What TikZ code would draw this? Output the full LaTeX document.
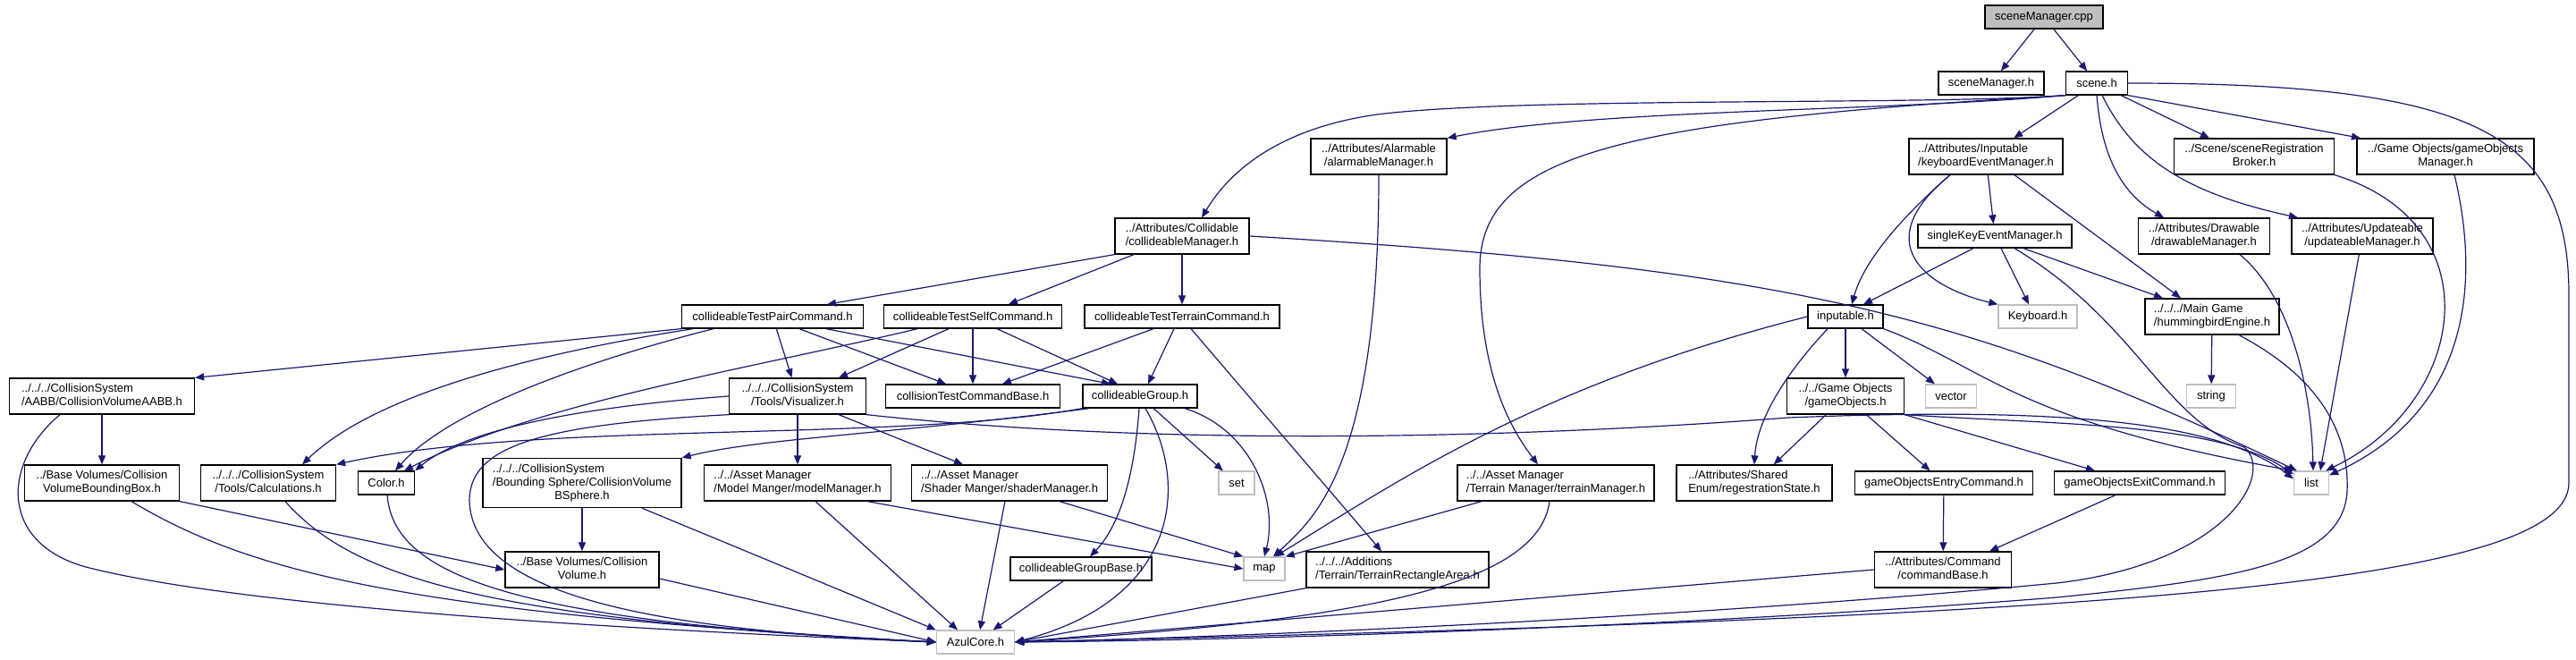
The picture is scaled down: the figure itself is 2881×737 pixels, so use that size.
\documentclass[tikz,border=0pt]{standalone}
\usepackage{fontspec}
\setmainfont{Liberation Sans}
\usetikzlibrary{arrows.meta}
\definecolor{dxEdge}{HTML}{191970}
\definecolor{dxGray}{HTML}{BFBFBF}
\newcommand{\twoline}[2]{\begin{tabular}{@{}l@{}}#1\\\multicolumn{1}{@{}c@{}}{#2}\end{tabular}}
\newcommand{\threeline}[3]{\begin{tabular}{@{}l@{}}#1\\#2\\\multicolumn{1}{@{}c@{}}{#3}\end{tabular}}

\begin{document}
\begin{tikzpicture}[x=1pt,y=-1pt,font=\fontsize{13}{15}\selectfont]
    \tikzset{file/.style={draw=black,fill=white,line width=1.3pt,minimum height=26pt,inner xsep=2pt,inner ysep=5pt},
      sys/.style={file,draw=dxGray},
      root/.style={file,fill=dxGray},
      dep/.style={dxEdge,line width=1.2pt,-{Triangle[length=10pt,width=8pt]}}}
    \useasboundingbox (0,0) rectangle (2881,737);
    \node[root,minimum width=132pt] (root) at (2286,19) {sceneManager.cpp};
    \node[file,minimum width=118pt] (smh) at (2227,93) {sceneManager.h};
    \node[file,minimum width=69pt] (scene) at (2345,93) {scene.h};
    \node[file,minimum width=152pt] (alarm) at (1542,175) {\twoline{../Attributes/Alarmable}{/alarmableManager.h}};
    \node[file,minimum width=172pt] (kbd) at (2221,175) {\twoline{../Attributes/Inputable}{/keyboardEventManager.h}};
    \node[file,minimum width=179pt] (reg) at (2521,175) {\twoline{../Scene/sceneRegistration}{Broker.h}};
    \node[file,minimum width=198pt] (gom) at (2735,175) {\twoline{../Game Objects/gameObjects}{Manager.h}};
    \node[file,minimum width=150pt] (coll) at (1322,264) {\twoline{../Attributes/Collidable}{/collideableManager.h}};
    \node[file,minimum width=172pt] (single) at (2231,264) {singleKeyEventManager.h};
    \node[file,minimum width=147pt] (draw) at (2465,264) {\twoline{../Attributes/Drawable}{/drawableManager.h}};
    \node[file,minimum width=158pt] (upd) at (2642,264) {\twoline{../Attributes/Updateable}{/updateableManager.h}};
    \node[file,minimum width=203pt] (pair) at (864,354) {collideableTestPairCommand.h};
    \node[file,minimum width=199pt] (self) at (1088,354) {collideableTestSelfCommand.h};
    \node[file,minimum width=218pt] (terr) at (1322,354) {collideableTestTerrainCommand.h};
    \node[file,minimum width=84pt] (inp) at (2064,354) {inputable.h};
    \node[sys,minimum width=88pt] (keyb) at (2279,354) {Keyboard.h};
    \node[file,minimum width=150pt] (engine) at (2474,354) {\twoline{../../../Main Game}{/hummingbirdEngine.h}};
    \node[file,minimum width=207pt] (aabb) at (114,443) {\twoline{../../../CollisionSystem}{/AABB/CollisionVolumeAABB.h}};
    \node[file,minimum width=153pt] (vis) at (892,443) {\twoline{../../../CollisionSystem}{/Tools/Visualizer.h}};
    \node[file,minimum width=195pt] (ctcb) at (1088,443) {collisionTestCommandBase.h};
    \node[file,minimum width=128pt] (group) at (1275,443) {collideableGroup.h};
    \node[file,minimum width=131pt] (gobj) at (2064,443) {\twoline{../../Game Objects}{/gameObjects.h}};
    \node[sys,minimum width=57pt] (vec) at (2182,443) {vector};
    \node[sys,minimum width=55pt] (str) at (2473,443) {string};
    \node[file,minimum width=173pt] (bbox) at (114,540) {\twoline{../Base Volumes/Collision}{VolumeBoundingBox.h}};
    \node[file,minimum width=151pt] (calc) at (300,540) {\twoline{../../../CollisionSystem}{/Tools/Calculations.h}};
    \node[file,minimum width=63pt] (color) at (432,540) {Color.h};
    \node[file,minimum width=222pt] (bsph) at (651,540) {\threeline{../../../CollisionSystem}{/Bounding Sphere/CollisionVolume}{BSphere.h}};
    \node[file,minimum width=209pt] (model) at (892,540) {\twoline{../../Asset Manager}{/Model Manger/modelManager.h}};
    \node[file,minimum width=219pt] (shader) at (1129,540) {\twoline{../../Asset Manager}{/Shader Manger/shaderManager.h}};
    \node[sys,minimum width=40pt] (set) at (1383,540) {set};
    \node[file,minimum width=220pt] (terrm) at (1740,540) {\twoline{../../Asset Manager}{/Terrain Manager/terrainManager.h}};
    \node[file,minimum width=174pt] (regst) at (1962,540) {\twoline{../Attributes/Shared}{Enum/regestrationState.h}};
    \node[file,minimum width=199pt] (entry) at (2174,540) {gameObjectsEntryCommand.h};
    \node[file,minimum width=191pt] (exit) at (2393,540) {gameObjectsExitCommand.h};
    \node[sys,minimum width=39pt] (list) at (2585,540) {list};
    \node[file,minimum width=172pt] (cvol) at (651,637) {\twoline{../Base Volumes/Collision}{Volume.h}};
    \node[file,minimum width=158pt] (gbase) at (1209,636) {collideableGroupBase.h};
    \node[sys,minimum width=46pt] (map) at (1414,636) {map};
    \node[file,minimum width=204pt] (tra) at (1563,637) {\twoline{../../../Additions}{/Terrain/TerrainRectangleArea.h}};
    \node[file,minimum width=153pt] (cbase) at (2173,637) {\twoline{../Attributes/Command}{/commandBase.h}};
    \node[sys,minimum width=87pt] (azul) at (1091,718) {AzulCore.h};
    % top
    \draw[dep] (root) -- (smh);
    \draw[dep] (root) -- (scene);
    \draw[dep] (scene.south west) .. controls (2150,118) and (1700,108) .. (1540,128) .. controls (1420,145) and (1370,200) .. ([xshift=22pt]coll.north);
    \draw[dep] (scene.south west) .. controls (2100,125) and (1780,122) .. (alarm.north east);
    \draw[dep] (scene.south west) .. controls (1820,135) and (1655,170) .. (1655,300) .. controls (1655,420) and (1690,480) .. ([xshift=-20pt]terrm.north);
    \draw[dep] (scene) -- (kbd);
    \draw[dep] (scene.south) .. controls (2350,170) and (2370,215) .. ([xshift=-45pt]draw.north);
    \draw[dep] ([xshift=6pt]scene.south) .. controls (2385,175) and (2440,215) .. ([xshift=-72pt]upd.north);
    \draw[dep] ([xshift=-8pt]scene.south east) -- ([xshift=-50pt]reg.north);
    \draw[dep] (scene.south east) -- ([xshift=-95pt]gom.north);
    \draw[dep] (scene.east) .. controls (2770,93) and (2873,150) .. (2873,330) -- (2873,540) .. controls (2873,660) and (2300,690) .. (azul.east);
    \draw[dep] (reg.south east) .. controls (2790,250) and (2760,450) .. ([xshift=-4pt]list.north east);
    \draw[dep] ([xshift=10pt]gom.south) .. controls (2775,320) and (2760,460) .. ([yshift=-5pt]list.north east);
    \draw[dep] ([xshift=40pt]draw.south) .. controls (2560,330) and (2585,430) .. ([xshift=2pt]list.north);
    \draw[dep] (upd) -- ([xshift=10pt]list.north);
    \draw[dep] (alarm.south) .. controls (1542,520) and (1470,580) .. ([xshift=10pt]map.north);
    % input side
    \draw[dep] (kbd) -- (single);
    \draw[dep] ([xshift=-40pt]kbd.south) .. controls (2130,240) and (2085,290) .. ([xshift=7pt]inp.north);
    \draw[dep] ([xshift=-40pt]kbd.south) .. controls (2090,270) and (2150,320) .. (keyb.north west);
    \draw[dep] ([xshift=32pt]kbd.south) -- ([xshift=-35pt]engine.north);
    \draw[dep] ([xshift=-24pt]single.south) -- ([xshift=20pt]inp.north);
    \draw[dep] ([xshift=7pt]single.south) -- ([xshift=-10pt]keyb.north);
    \draw[dep] ([xshift=32pt]single.south) -- ([xshift=-55pt]engine.north);
    \draw[dep] ([xshift=22pt]single.south) .. controls (2390,360) and (2420,470) .. (2510,500) .. controls (2545,530) and (2490,630) .. (2300,652) .. controls (1900,690) and (1400,712) .. (azul.east);
    \draw[dep] (engine) -- (str);
    \draw[dep] ([xshift=30pt]engine.south) .. controls (2590,420) and (2628,480) .. (2625,550) .. controls (2620,630) and (2500,648) .. (2300,668) .. controls (1900,700) and (1400,716) .. (azul.east);
    \draw[dep] (inp) -- (gobj);
    \draw[dep] (inp) -- (vec);
    \draw[dep] (inp.south east) .. controls (2220,410) and (2250,470) .. (list.north west);
    \draw[dep] ([xshift=-20pt]inp.south) .. controls (1995,420) and (1965,470) .. (regst.north);
    \draw[dep] (inp.west) .. controls (1720,430) and (1560,540) .. ([xshift=12pt]map.north);
    \draw[dep] (gobj) -- (regst);
    \draw[dep] (gobj) -- (entry);
    \draw[dep] (gobj.south east) -- ([xshift=-50pt]exit.north);
    \draw[dep] (gobj.south east) .. controls (2300,475) and (2480,472) .. ([yshift=-4pt]list.north west);
    \draw[dep] (entry) -- (cbase);
    \draw[dep] ([xshift=-27pt]exit.south) -- ([xshift=52pt]cbase.north);
    \draw[dep] (cbase.west) -- (azul.east);
    % collision side
    \draw[dep] (coll.south west) -- ([xshift=61pt]pair.north);
    \draw[dep] ([xshift=-54pt]coll.south) -- ([xshift=40pt]self.north);
    \draw[dep] (coll) -- (terr);
    \draw[dep] (coll.east) .. controls (2000,300) and (2200,350) .. ([xshift=4pt]list.north west);
    \draw[dep] (pair.south west) -- (aabb.north east);
    \draw[dep] ([xshift=-89pt]pair.south) .. controls (600,395) and (420,440) .. ([xshift=38pt]calc.north);
    \draw[dep] ([xshift=-66pt]pair.south) .. controls (650,405) and (500,460) .. ([xshift=10pt]color.north);
    \draw[dep] (pair) -- (vis);
    \draw[dep] ([xshift=30pt]pair.south) -- ([xshift=-30pt]ctcb.north);
    \draw[dep] ([xshift=60pt]pair.south) -- ([xshift=-33pt]group.north);
    \draw[dep] ([xshift=-27pt]self.south) -- ([xshift=46pt]vis.north);
    \draw[dep] ([xshift=-62pt]self.south) .. controls (850,410) and (600,450) .. ([xshift=20pt]color.north);
    \draw[dep] (self) -- (ctcb);
    \draw[dep] ([xshift=27pt]self.south) -- ([xshift=-25pt]group.north);
    \draw[dep] ([xshift=-32pt]terr.south) -- ([xshift=33pt]ctcb.north);
    \draw[dep] ([xshift=-9pt]terr.south) -- ([xshift=9pt]group.north);
    \draw[dep] ([xshift=10pt]terr.south) -- ([xshift=-18pt]tra.north);
    \draw[dep] (vis.west) .. controls (650,455) and (520,480) .. (color.north east);
    \draw[dep] (vis) -- (model);
    \draw[dep] ([xshift=46pt]vis.south) -- ([xshift=-52pt]shader.north);
    \draw[dep] (vis.south east) .. controls (1300,500) and (1700,490) .. (2000,467) .. controls (2300,455) and (2480,470) .. ([yshift=-9pt]list.north west);
    \draw[dep] (vis.south west) .. controls (600,475) and (525,500) .. (525,560) .. controls (528,670) and (750,705) .. (azul.west);
    \draw[dep] (group.south west) .. controls (1000,495) and (600,470) .. (calc.north east);
    \draw[dep] ([xshift=8pt]group.south west) .. controls (1000,485) and (850,490) .. (bsph.north east);
    \draw[dep] ([xshift=-1pt]group.south) .. controls (1268,540) and (1250,590) .. ([xshift=10pt]gbase.north);
    \draw[dep] ([xshift=6pt]group.south) .. controls (1330,540) and (1320,670) .. (azul.east);
    \draw[dep] (group) -- (set);
    \draw[dep] ([xshift=50pt]group.south) .. controls (1400,480) and (1430,560) .. (map.north);
    % bottom
    \draw[dep] (aabb) -- (bbox);
    \draw[dep] ([xshift=-47pt]aabb.south) .. controls (0,520) and (0,610) .. (100,635) .. controls (300,685) and (800,708) .. (azul.west);
    \draw[dep] (bbox.south east) -- (cvol.west);
    \draw[dep] ([xshift=33pt]bbox.south) .. controls (280,640) and (450,685) .. (azul.west);
    \draw[dep] ([xshift=19pt]calc.south) .. controls (390,640) and (520,692) .. (azul.west);
    \draw[dep] (color) .. controls (440,640) and (560,695) .. (azul.west);
    \draw[dep] (bsph) -- (cvol);
    \draw[dep] ([xshift=67pt]bsph.south) -- (azul.north west);
    \draw[dep] ([yshift=-10pt]cvol.east) -- (azul.west);
    \draw[dep] ([xshift=78pt]model.south) -- (map.west);
    \draw[dep] ([xshift=20pt]model.south) -- ([xshift=-20pt]azul.north);
    \draw[dep] ([xshift=56pt]shader.south) -- (map.north west);
    \draw[dep] ([xshift=-5pt]shader.south) -- ([xshift=5pt]azul.north);
    \draw[dep] (gbase) -- (azul);
    \draw[dep] (tra.south west) -- (azul.east);
    \draw[dep] ([xshift=-83pt]terrm.south) -- (map.north east);
    \draw[dep] ([xshift=-7pt]terrm.south) .. controls (1720,660) and (1500,695) .. (azul.east);
\end{tikzpicture}
\end{document}
